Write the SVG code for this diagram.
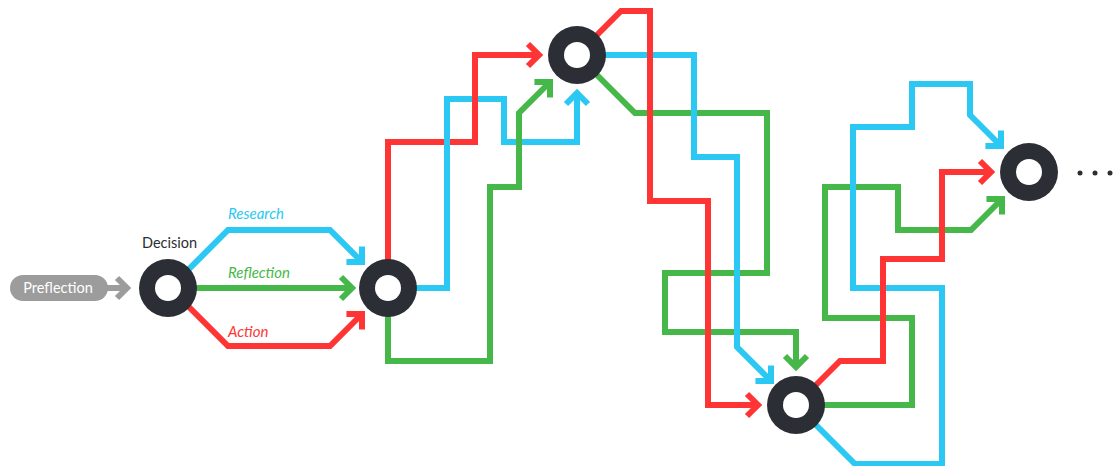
<svg xmlns="http://www.w3.org/2000/svg" width="1115" height="466" viewBox="0 0 1115 466">
<style>
.ln{fill:none;stroke-width:6;stroke-linejoin:miter;stroke-linecap:butt}
.b{stroke:#2BC8F4}
.r{stroke:#FF3535}
.g{stroke:#46B749}
.ring{fill:#2B2E34}
.hole{fill:#FFFFFF}
.lbl{font-family:Lato,"Open Sans","DejaVu Sans",sans-serif;font-size:14.5px}
.it{font-style:italic;font-size:15px}
</style>
<defs>
<marker id="mb" viewBox="-20 -20 30 40" markerWidth="30" markerHeight="40" refX="0" refY="0" orient="auto" markerUnits="userSpaceOnUse"><path d="M-11,-11 L0,0 L-11,11" fill="none" stroke="#2BC8F4" stroke-width="6"/></marker>
<marker id="mr" viewBox="-20 -20 30 40" markerWidth="30" markerHeight="40" refX="0" refY="0" orient="auto" markerUnits="userSpaceOnUse"><path d="M-11,-11 L0,0 L-11,11" fill="none" stroke="#FF3535" stroke-width="6"/></marker>
<marker id="mg" viewBox="-20 -20 30 40" markerWidth="30" markerHeight="40" refX="0" refY="0" orient="auto" markerUnits="userSpaceOnUse"><path d="M-11,-11 L0,0 L-11,11" fill="none" stroke="#46B749" stroke-width="6"/></marker>
</defs>
<g id="connectors">
<path class="ln b" d="M170,288 L228,230 L330,230 L362,262" marker-end="url(#mb)"/>
<path class="ln g" d="M190,288 L352,288" marker-end="url(#mg)"/>
<path class="ln r" d="M170,288 L228,346 L330,346 L362,314" marker-end="url(#mr)"/>
<path class="ln g" d="M388,288 L388,361 L490,361 L490,187 L519,187 L519,113 L550,82" marker-end="url(#mg)"/>
<path class="ln b" d="M388,288 L447,288 L447,99 L504,99 L504,142 L577,142 L577,93" marker-end="url(#mb)"/>
<path class="ln r" d="M388,288 L388,142 L475,142 L475,55 L539,55" marker-end="url(#mr)"/>
<path class="ln g" d="M577,55 L635,113 L767,113 L767,273 L665,273 L665,332 L796,332 L796,367" marker-end="url(#mg)"/>
<path class="ln b" d="M577,55 L694,55 L694,157 L737,157 L737,347 L771,381" marker-end="url(#mb)"/>
<path class="ln r" d="M577,55 L621,11 L650,11 L650,201 L708,201 L708,405 L758,405" marker-end="url(#mr)"/>
<path class="ln g" d="M796,405 L912,405 L912,318 L825,318 L825,187 L898,187 L898,230 L971,230 L1002,199" marker-end="url(#mg)"/>
<path class="ln b" d="M796,405 L855,464 L942,464 L942,288 L853,288 L853,127 L912,127 L912,84 L970,84 L970,115 L1001,146" marker-end="url(#mb)"/>
<path class="ln r" d="M796,405 L840,361 L883,361 L883,259 L942,259 L942,172 L991,172" marker-end="url(#mr)"/>
<path class="ln b" d="M447,130 L447,154"/>
<path class="ln g" d="M519,130 L519,154"/>
</g>
<g id="preflection">
<rect x="10" y="275" width="98" height="26" rx="13" fill="#9C9C9C"/>
<path d="M106,288 L126,288 M117,278 L127,288 L117,298" fill="none" stroke="#9C9C9C" stroke-width="6"/>
<text x="58" y="293" text-anchor="middle" class="lbl" fill="#FFFFFF" font-size="15">Preflection</text>
</g>
<g id="node1">
<circle cx="168" cy="288" r="29" class="ring"/>
<circle cx="168" cy="288" r="13" class="hole"/>
<text x="142" y="248" class="lbl" fill="#2B2E34">Decision</text>
</g>
<g id="labels">
<text x="228" y="219" class="lbl it" fill="#2BC8F4">Research</text>
<text x="228" y="278" class="lbl it" fill="#46B749">Reflection</text>
<text x="228" y="337" class="lbl it" fill="#FF3535">Action</text>
</g>
<g id="node2">
<circle cx="388" cy="288" r="29" class="ring"/>
<circle cx="388" cy="288" r="13" class="hole"/>
</g>
<g id="node3">
<circle cx="577" cy="55" r="29" class="ring"/>
<circle cx="577" cy="55" r="13" class="hole"/>
</g>
<g id="node4">
<circle cx="796" cy="405" r="29" class="ring"/>
<circle cx="796" cy="405" r="13" class="hole"/>
</g>
<g id="node5">
<circle cx="1029" cy="172" r="29" class="ring"/>
<circle cx="1029" cy="172" r="13" class="hole"/>
<circle cx="1080" cy="173" r="2.5" fill="#2B2E34"/>
<circle cx="1095" cy="173" r="2.5" fill="#2B2E34"/>
<circle cx="1110" cy="173" r="2.5" fill="#2B2E34"/>
</g>
</svg>
